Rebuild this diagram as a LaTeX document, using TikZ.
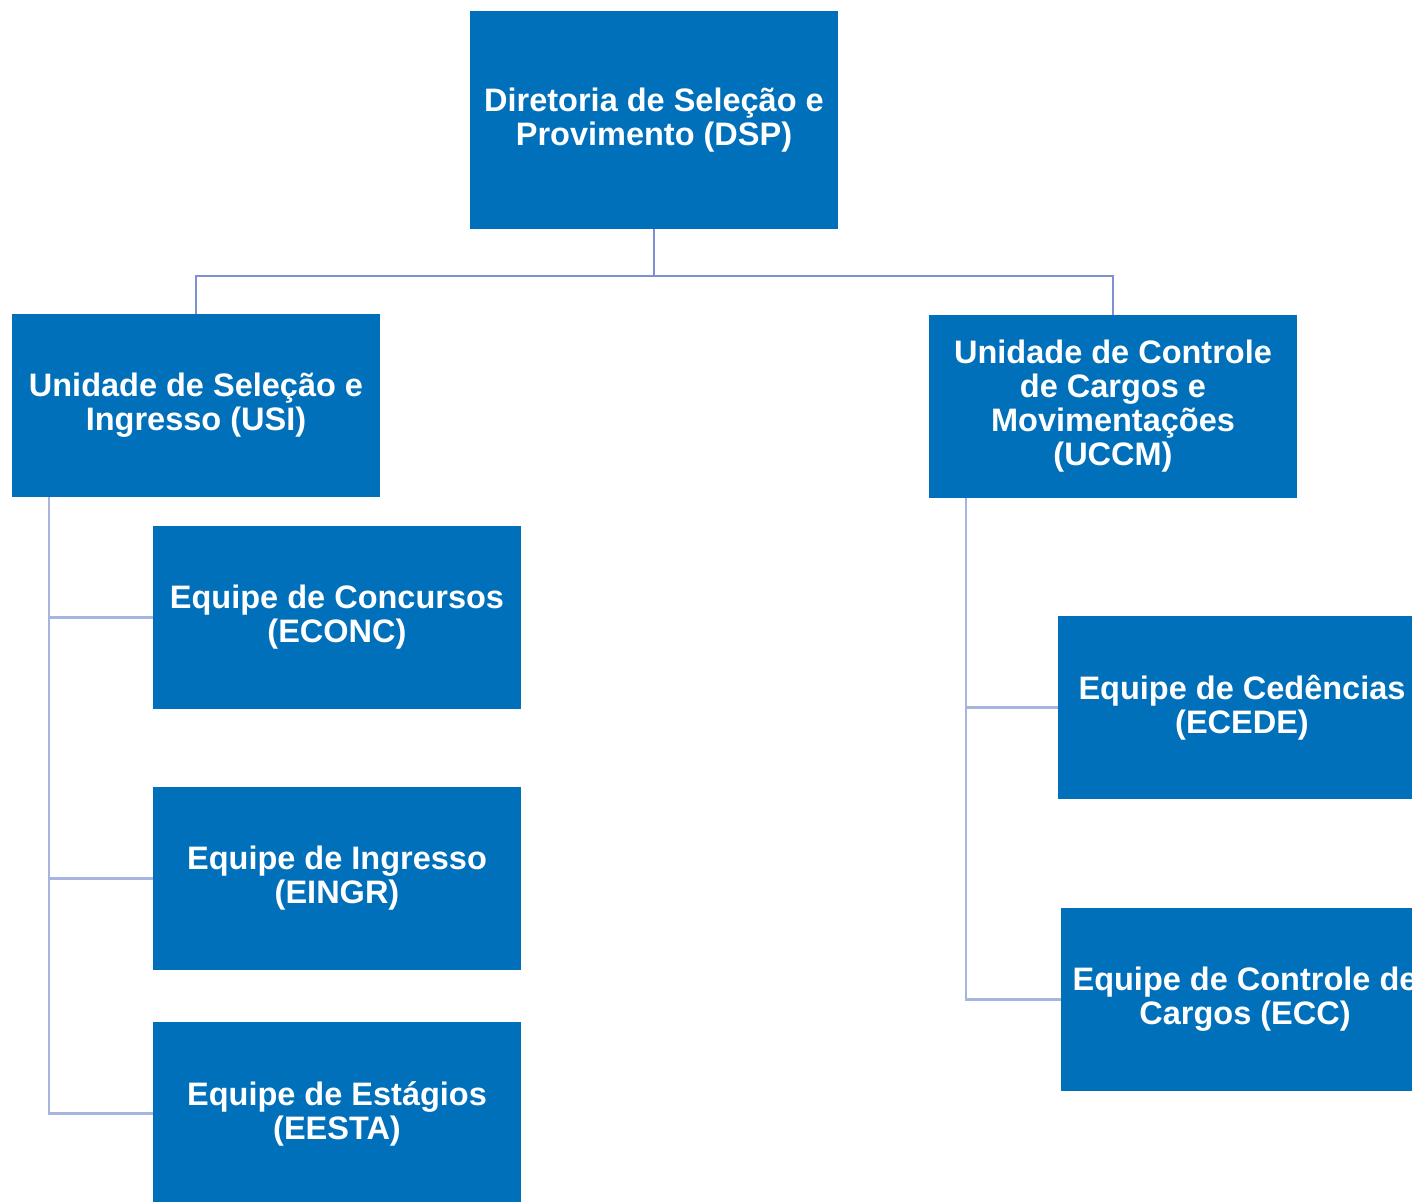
\documentclass[tikz,border=0pt]{standalone}
\usepackage{fontspec}
\setmainfont{Liberation Sans}
\definecolor{boxblue}{RGB}{0,112,186}
\definecolor{linetop}{RGB}{125,145,210}
\definecolor{linespine}{RGB}{168,180,224}
\begin{document}
\begin{tikzpicture}[x=1pt,y=-1pt,
  orgbox/.style={fill=boxblue, draw=none, minimum width=368pt, minimum height=183pt,
    inner sep=0pt, align=center, text=white, font=\bfseries\fontsize{32.5}{34}\selectfont},
  topline/.style={draw=linetop, line width=2.5pt},
  spine/.style={draw=linespine, line width=2.5pt}]
\useasboundingbox (0,0) rectangle (1412,1201);
\clip (0,0) rectangle (1412,1201);
\fill[white] (0,0) rectangle (1412,1201);
\node[orgbox, minimum height=218pt] (dsp) at (654,120) {Diretoria de Seleção e\\Provimento (DSP)};
\node[orgbox] (usi) at (196,405.5) {Unidade de Seleção e\\Ingresso (USI)};
\node[orgbox] (uccm) at (1113,406.5) {Unidade de Controle\\de Cargos e\\Movimentações\\(UCCM)};
\node[orgbox] (econc) at (337,617.5) {Equipe de Concursos\\(ECONC)};
\node[orgbox] (eingr) at (337,878.5) {Equipe de Ingresso\\(EINGR)};
\node[orgbox] (eesta) at (337,1113.5) {Equipe de Estágios\\(EESTA)};
\node[orgbox] (ecede) at (1242,707.5) {Equipe de Cedências\\(ECEDE)};
\node[orgbox] (ecc) at (1245,999.5) {Equipe de Controle de\\Cargos (ECC)};
\coordinate (hub) at (654,276);
\coordinate (ls) at (49,497);
\coordinate (rs) at (966,498);
\draw[topline] (dsp.south) -- (hub) -| (usi.north);
\draw[topline] (hub) -| (uccm.north);
\draw[spine] (ls) |- (econc.west);
\draw[spine] (ls) |- (eingr.west);
\draw[spine] (ls) |- (eesta.west);
\draw[spine] (rs) |- (ecede.west);
\draw[spine] (rs) |- (ecc.west);
\end{tikzpicture}
\end{document}
